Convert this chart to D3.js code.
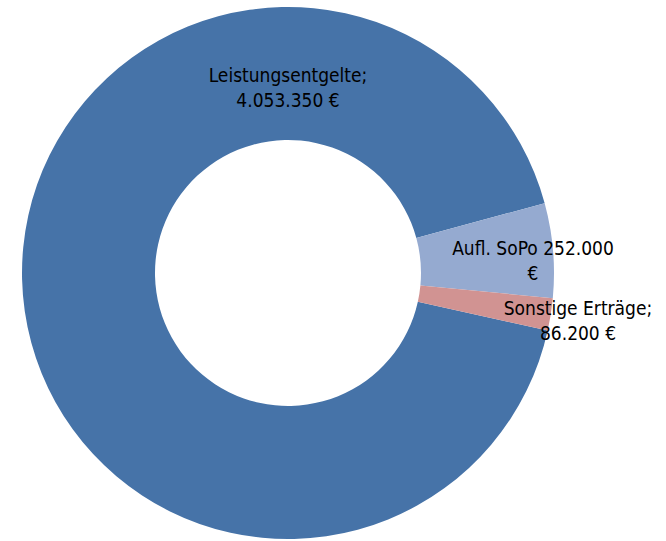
<!DOCTYPE html>
<html>
<head>
<meta charset="utf-8">
<script src="https://cdn.jsdelivr.net/npm/d3@7"></script>
<style>
  html, body { margin: 0; padding: 0; background: #fff; }
  svg text { font-family: "Liberation Sans Narrow", "DejaVu Sans Condensed", "Noto Sans", sans-serif; fill: #000; }
</style>
</head>
<body>
<div id="chart"></div>
<script>
// data
var categories = ["Leistungsentgelte", "Aufl. SoPo", "Sonstige Erträge"];
var values = [4053350, 252000, 86200];
var labelLines = [
    ["Leistungsentgelte;", "4.053.350 €"],
    ["Aufl. SoPo 252.000", "€"],
    ["Sonstige Erträge;", "86.200 €"]
];
var colors = ["#4673A8", "#95AAD0", "#D19392"];

// layout
var width = 666;
var height = 541;
var cx = 288, cy = 273;
var outerR = 266, innerR = 133;
var rotation = 102.5; // degrees, where the first slice starts (clockwise from 12 o'clock)
// label centre (first line baseline) for each slice, set by hand like in the original
var labelPos = [[288, 82], [533, 255], [578, 315]];
var lineHeight = 25;

var svg = d3.select("#chart")
    .append("svg")
    .attr("width", width)
    .attr("height", height);

var a0 = rotation * Math.PI / 180;
var pie = d3.pie()
    .sort(null)
    .value(function (d) { return d; })
    .startAngle(a0)
    .endAngle(a0 + 2 * Math.PI);

var arc = d3.arc()
    .innerRadius(innerR)
    .outerRadius(outerR);

var g = svg.append("g")
    .attr("transform", "translate(" + cx + "," + cy + ")");

g.selectAll("path")
    .data(pie(values))
    .enter()
    .append("path")
    .attr("fill", function (d, i) { return colors[i]; })
    .attr("d", arc);

// data labels
var labels = svg.selectAll("text.lbl")
    .data(labelLines)
    .enter()
    .append("text")
    .attr("class", "lbl")
    .attr("text-anchor", "middle")
    .style("font-size", "19px")
    .attr("x", function (d, i) { return labelPos[i][0]; })
    .attr("y", function (d, i) { return labelPos[i][1]; });

labels.each(function (d, i) {
    var t = d3.select(this);
    d.forEach(function (line, j) {
        t.append("tspan")
            .attr("x", labelPos[i][0])
            .attr("y", labelPos[i][1] + j * lineHeight)
            .text(line);
    });
});
</script>
</body>
</html>
